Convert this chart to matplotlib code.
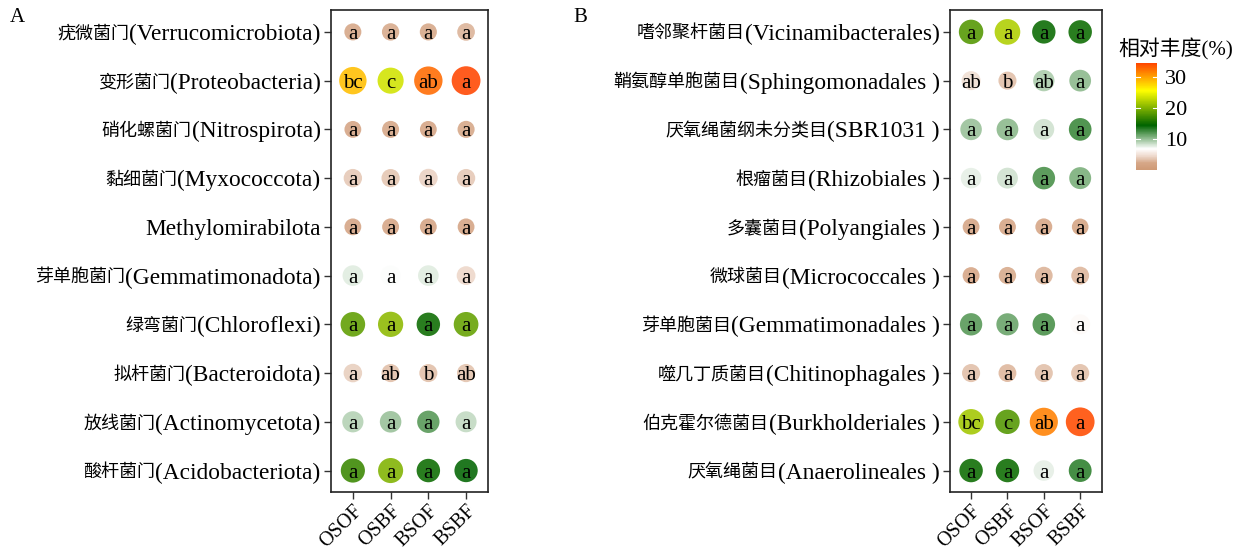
import numpy as np
import matplotlib.pyplot as plt
from matplotlib.colors import LinearSegmentedColormap, Normalize

plt.rcParams['font.family'] = ['Liberation Serif', 'Noto Sans CJK SC']

groups = ['OSOF', 'OSBF', 'BSOF', 'BSBF']

# panel A: phylum level (Chinese name, latin name)
phyla_cn = ['疣微菌门', '变形菌门', '硝化螺菌门', '黏细菌门', '', '芽单胞菌门',
            '绿弯菌门', '拟杆菌门', '放线菌门', '酸杆菌门']
phyla_en = ['(Verrucomicrobiota)', '(Proteobacteria)', '(Nitrospirota)', '(Myxococcota)',
            'Methylomirabilota', '(Gemmatimonadota)', '(Chloroflexi)', '(Bacteroidota)',
            '(Actinomycetota)', '(Acidobacteriota)']
phyla_abund = [
    [2.2, 2.6, 2.3, 3.0],
    [28.5, 23.5, 32.5, 34.2],
    [2.0, 2.2, 2.0, 2.3],
    [4.0, 3.8, 4.4, 3.9],
    [2.0, 2.1, 2.0, 2.0],
    [8.0, 7.2, 8.0, 4.6],
    [18.5, 20.5, 15.0, 18.8],
    [4.2, 3.6, 3.5, 3.7],
    [9.2, 10.0, 12.0, 8.8],
    [17.0, 20.0, 15.0, 14.5],
]
phyla_sig = [
    ['a', 'a', 'a', 'a'],
    ['bc', 'c', 'ab', 'a'],
    ['a', 'a', 'a', 'a'],
    ['a', 'a', 'a', 'a'],
    ['a', 'a', 'a', 'a'],
    ['a', 'a', 'a', 'a'],
    ['a', 'a', 'a', 'a'],
    ['a', 'ab', 'b', 'ab'],
    ['a', 'a', 'a', 'a'],
    ['a', 'a', 'a', 'a'],
]

# panel B: order level
orders_cn = ['嗜邻聚杆菌目', '鞘氨醇单胞菌目', '厌氧绳菌纲未分类目', '根瘤菌目', '多囊菌目',
             '微球菌目', '芽单胞菌目', '噬几丁质菌目', '伯克霍尔德菌目', '厌氧绳菌目']
orders_en = ['(Vicinamibacterales)', '(Sphingomonadales )', '(SBR1031 )', '(Rhizobiales )',
             '(Polyangiales )', '(Micrococcales )', '(Gemmatimonadales )',
             '(Chitinophagales )', '(Burkholderiales )', '(Anaerolineales )']
orders_abund = [
    [18.0, 22.0, 14.8, 15.0],
    [5.0, 3.5, 9.5, 10.5],
    [10.0, 10.5, 8.5, 12.8],
    [7.8, 8.5, 12.5, 11.0],
    [2.0, 2.1, 2.1, 1.8],
    [2.1, 2.6, 3.0, 3.2],
    [12.0, 11.5, 12.5, 6.8],
    [3.6, 3.2, 3.5, 3.6],
    [21.5, 18.0, 31.5, 34.0],
    [15.0, 15.0, 7.8, 13.3],
]
orders_sig = [
    ['a', 'a', 'a', 'a'],
    ['ab', 'b', 'ab', 'a'],
    ['a', 'a', 'a', 'a'],
    ['a', 'a', 'a', 'a'],
    ['a', 'a', 'a', 'a'],
    ['a', 'a', 'a', 'a'],
    ['a', 'a', 'a', 'a'],
    ['a', 'a', 'a', 'a'],
    ['bc', 'c', 'ab', 'a'],
    ['a', 'a', 'a', 'a'],
]

VMIN, VMAX = 0.3, 34.3
stops = [(0.3, '#cf9a76'), (2.5, '#d6a788'), (4.5, '#ecd6c8'), (7.0, '#ffffff'),
         (14.5, '#006400'), (25.5, '#ffff00'), (30.0, '#ffa000'), (34.3, '#ff4500')]
cmap = LinearSegmentedColormap.from_list(
    'abund', [((v - VMIN) / (VMAX - VMIN), c) for v, c in stops])
norm = Normalize(VMIN, VMAX)


def dot_size(v):
    # diameter in px grows with sqrt of abundance, converted to pt^2
    d = 13 + 2.7 * np.sqrt(np.asarray(v))
    return (d * 0.72) ** 2


def bubble_panel(ax, cn, en, abund, sig, xlim):
    abund = np.array(abund)
    yy, xx = np.meshgrid(np.arange(len(en)), np.arange(len(groups)), indexing='ij')
    ax.scatter(xx.ravel(), yy.ravel(), s=dot_size(abund.ravel()), c=abund.ravel(),
               cmap=cmap, norm=norm, alpha=0.88, linewidths=0, zorder=2)
    for i in range(len(en)):
        for j in range(len(groups)):
            ax.text(j, i, sig[i][j], ha='center', va='center_baseline', fontsize=15,
                    color='black', zorder=3)
    ax.set_xlim(*xlim)
    ax.set_ylim(9.44, -0.45)
    ax.set_yticks(range(len(en)))
    ax.set_yticklabels([])
    # latin part and chinese part are drawn separately (different sizes)
    for i in range(len(en)):
        t = ax.annotate(en[i], xy=(0, i), xycoords=('axes fraction', 'data'),
                        xytext=(-7.5, 0), textcoords='offset points',
                        ha='right', va='center_baseline', fontsize=16.8)
        if cn[i]:
            ax.annotate(cn[i], xy=(0, i), xycoords=(t, 'data'), ha='right',
                        va='center_baseline', fontsize=13)
    ax.set_xticks(range(len(groups)))
    ax.set_xticklabels(groups, fontsize=14.5, rotation=45, ha='right',
                       rotation_mode='anchor')
    ax.tick_params(length=5, width=1, colors='#333333', labelcolor='black', pad=2)
    for sp in ax.spines.values():
        sp.set_linewidth(1.2)
        sp.set_color('#222222')


fig = plt.figure(figsize=(12.41, 5.51), dpi=100)
ax_a = fig.add_axes([0.2667, 0.1071, 0.1265, 0.8748])
ax_b = fig.add_axes([0.7655, 0.1071, 0.1225, 0.8748])
bubble_panel(ax_a, phyla_cn, phyla_en, phyla_abund, phyla_sig, (-0.58, 3.58))
bubble_panel(ax_b, orders_cn, orders_en, orders_abund, orders_sig, (-0.58, 3.6))

fig.text(10 / 1241, 1 - 18 / 551, 'A', fontsize=15, va='center')
fig.text(573 / 1241, 1 - 18 / 551, 'B', fontsize=15, va='center')

# colour bar
cax = fig.add_axes([0.9154, 0.6915, 0.0169, 0.1942])
cb = fig.colorbar(plt.cm.ScalarMappable(norm=norm, cmap=cmap), cax=cax)
cb.outline.set_visible(False)
cb.set_ticks([10, 20, 30])
cax.tick_params(length=0, labelsize=16, pad=6)
for t in [10, 20, 30]:
    cax.plot([0, 0.2], [t, t], color='white', lw=0.8, transform=cax.get_yaxis_transform())
    cax.plot([0.8, 1], [t, t], color='white', lw=0.8, transform=cax.get_yaxis_transform())
fig.text(1176 / 1241, 1 - 49 / 551, '相对丰度(%)', fontsize=15, ha='center', va='center')

fig.savefig('out.png', dpi=100)
